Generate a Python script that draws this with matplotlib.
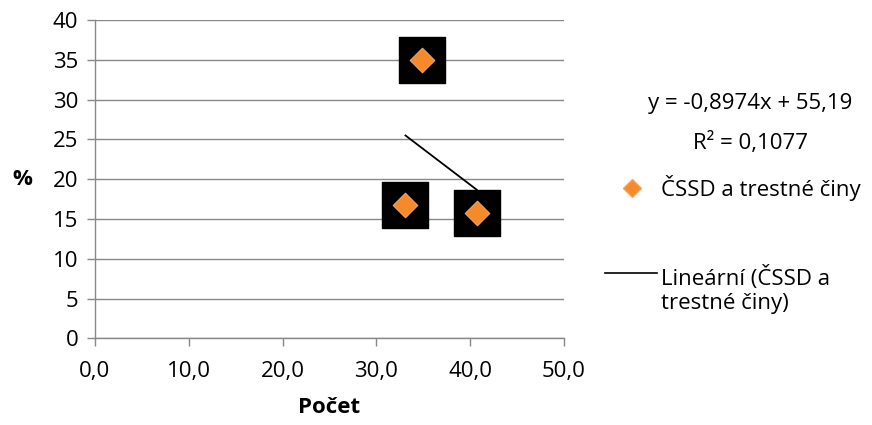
import numpy as np
import matplotlib
matplotlib.use("Agg")
import matplotlib.pyplot as plt
from matplotlib.lines import Line2D

# data
pocet = [34.9, 33.1, 40.7]
procenta = [35.0, 16.7, 15.8]
slope = -0.8974
intercept = 55.19
r2 = 0.1077
series_name = "ČSSD a trestné činy"
trend_name = "Lineární (ČSSD a\ntrestné činy)"
x_ticks = [0, 10, 20, 30, 40, 50]
y_ticks = [0, 5, 10, 15, 20, 25, 30, 35, 40]

plt.rcParams['font.family'] = ['Open Sans', 'DejaVu Sans']
grey = "#888888"
orange = "#F58A2A"
fs = 16

fig = plt.figure(figsize=(8.72, 4.25), dpi=100)
ax = fig.add_axes([0.1089, 0.204, 0.5379, 0.749])

ax.scatter(pocet, procenta, marker="s", s=33**2, color="black", zorder=3)
ax.scatter(pocet, procenta, marker="D", s=12.5**2, color=orange,
           edgecolor="#F7A35C", linewidth=0.8, zorder=4)

xs = np.array([min(pocet), max(pocet)])
ax.plot(xs, slope * xs + intercept, color="black", lw=1.3, zorder=5)

ax.set_xlim(0, 50)
ax.set_ylim(0, 40)
ax.set_xticks(x_ticks)
ax.set_xticklabels([f"{v:.1f}".replace(".", ",") for v in x_ticks])
ax.set_yticks(y_ticks)
ax.yaxis.grid(True, color=grey, lw=1.0)
ax.set_axisbelow(True)
for s in ["top", "right"]:
    ax.spines[s].set_visible(False)
for s in ["left", "bottom"]:
    ax.spines[s].set_color(grey)
    ax.spines[s].set_linewidth(1.0)
ax.tick_params(colors=grey, labelcolor="black", labelsize=fs, length=6, width=1.0)
ax.tick_params(axis="y", pad=6)
ax.tick_params(axis="x", pad=10)

ax.set_xlabel("Počet", fontsize=fs, fontweight="bold", labelpad=11)
ax.set_ylabel("%", fontsize=fs, fontweight="bold", rotation=0, labelpad=22, va="center")

# equation + legend, placed like Excel does it
fig.text(750 / 872, 1 - 103 / 425, f"y = {slope}x + {intercept}".replace(".", ","),
         fontsize=fs, ha="center", va="center")
fig.text(750 / 872, 1 - 143 / 425, f"R² = {r2}".replace(".", ","),
         fontsize=fs, ha="center", va="center")

fig.add_artist(Line2D([632 / 872], [1 - 188 / 425], marker="D", markersize=9,
                      color=orange, markeredgecolor="#F7A35C", transform=fig.transFigure))
fig.text(661 / 872, 1 - 188 / 425, series_name, fontsize=fs, ha="left", va="center")

fig.add_artist(Line2D([605 / 872, 657 / 872], [1 - 273 / 425] * 2, color="black",
                      lw=1.2, transform=fig.transFigure))
fig.text(661 / 872, 1 - 290 / 425, trend_name, fontsize=fs, ha="left", va="center",
         linespacing=1.25)

fig.savefig("out.png", dpi=100)
